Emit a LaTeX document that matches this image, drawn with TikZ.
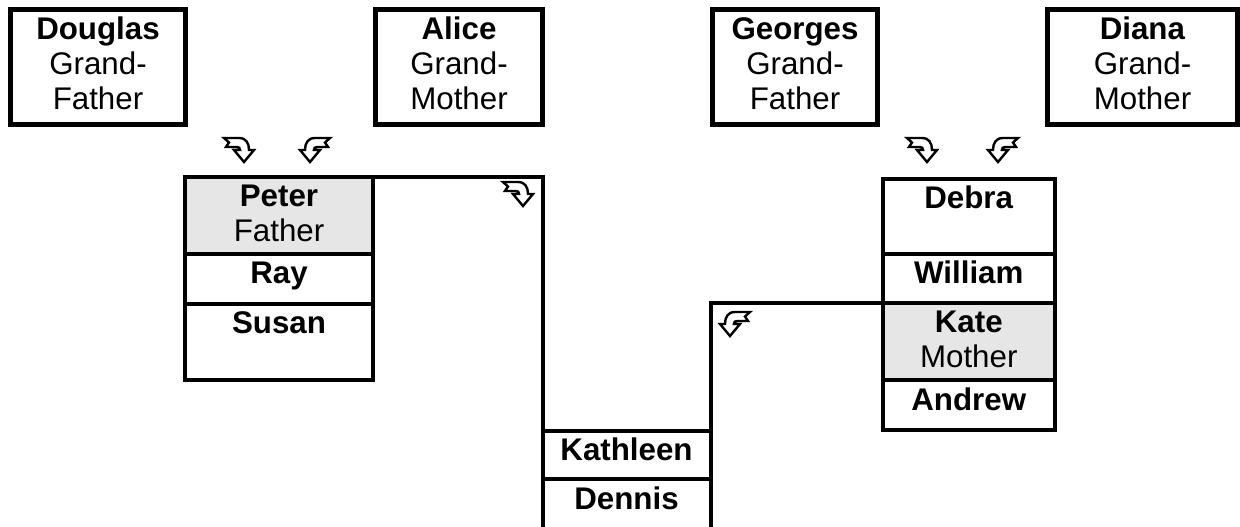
\documentclass[tikz,border=0pt]{standalone}
\usepackage{fontspec}
\setmainfont{Liberation Sans}
\definecolor{kin}{HTML}{E6E6E6}
\newcommand{\cellstrut}{\rule{0pt}{30pt}}
\newcommand{\who}[1]{\cellstrut\textbf{#1}}
\tikzset{
  rdarrow/.pic={\draw[line width=2.4pt, line join=miter, fill=white] (0,1) -- (15,1) .. controls (22,1) and (25,6) .. (25,13) -- (30,13) -- (20,25) -- (10,13) -- (16,13) .. controls (16,11) and (15,10) .. (13,10) -- (2,10) -- (5,5.5) -- cycle;}
}
\begin{document}
\begin{tikzpicture}[x=1pt, y=-1pt, font=\fontsize{31.3}{35}\selectfont, line join=miter, line cap=rect,
  grand/.style={draw, line width=5pt, minimum width=#1, minimum height=115pt, anchor=north west, inner sep=0pt, outer sep=0pt},
  cell/.style={draw, line width=4pt, anchor=north west, inner sep=0pt, outer sep=0pt},
  txt/.style={anchor=north, inner sep=0pt, align=center},
  link/.style={line width=4pt}]
    \clip (0,0) rectangle (1240,527);

    % Grandparents
    \node[grand=175pt, label={[txt]north:{\who{Douglas}\\Grand-\\Father}}] (douglas) at (10.5,9.5) {};
    \node[grand=167pt, label={[txt]north:{\who{Alice}\\Grand-\\Mother}}] (alice) at (375.5,9.5) {};
    \node[grand=165pt, label={[txt]north:{\who{Georges}\\Grand-\\Father}}] (georges) at (712.5,9.5) {};
    \node[grand=190pt, label={[txt]north:{\who{Diana}\\Grand-\\Mother}}] (diana) at (1047.5,9.5) {};

    % Father's side
    \node[cell, fill=kin, minimum width=188pt, minimum height=77pt, label={[txt]north:{\who{Peter}\\Father}}] (peter) at (185,176.5) {};
    \node[cell, minimum width=188pt, minimum height=50pt, label={[txt]north:{\who{Ray}}}] (ray) at (peter.south west) {};
    \node[cell, minimum width=188pt, minimum height=76.5pt, label={[txt]north:{\who{Susan}}}] (susan) at (ray.south west) {};
    \pic at (224,137) {rdarrow};
    \pic[xscale=-1] at (330,137) {rdarrow};

    % Mother's side
    \node[cell, minimum width=172.5pt, minimum height=75pt, label={[txt]north:{\who{Debra}}}] (debra) at (882.5,178.5) {};
    \node[cell, minimum width=172.5pt, minimum height=49pt, label={[txt]north:{\who{William}}}] (william) at (debra.south west) {};
    \node[cell, fill=kin, minimum width=172.5pt, minimum height=77.5pt, label={[txt]north:{\who{Kate}\\Mother}}] (kate) at (william.south west) {};
    \node[cell, minimum width=172.5pt, minimum height=49.5pt, label={[txt]north:{\who{Andrew}}}] (andrew) at (kate.south west) {};
    \pic at (907,137) {rdarrow};
    \pic[xscale=-1] at (1018,137) {rdarrow};

    % Children
    \node[cell, minimum width=168pt, minimum height=48.5pt, label={[txt]north:{\who{Kathleen}}}] (kathleen) at (542.5,430.5) {};
    \node[cell, minimum width=168pt, minimum height=80pt, label={[txt]north:{\who{Dennis}}}] (dennis) at (kathleen.south west) {};

    % Links
    \draw[link] (peter.north east) -- (peter.north east -| kathleen.north west) -- (kathleen.north west);
    \draw[link] (kate.north west) -- (kate.north west -| kathleen.north east) -- (kathleen.north east);
    \pic at (503,181) {rdarrow};
    \pic[xscale=-1] at (750,311) {rdarrow};
\end{tikzpicture}
\end{document}
